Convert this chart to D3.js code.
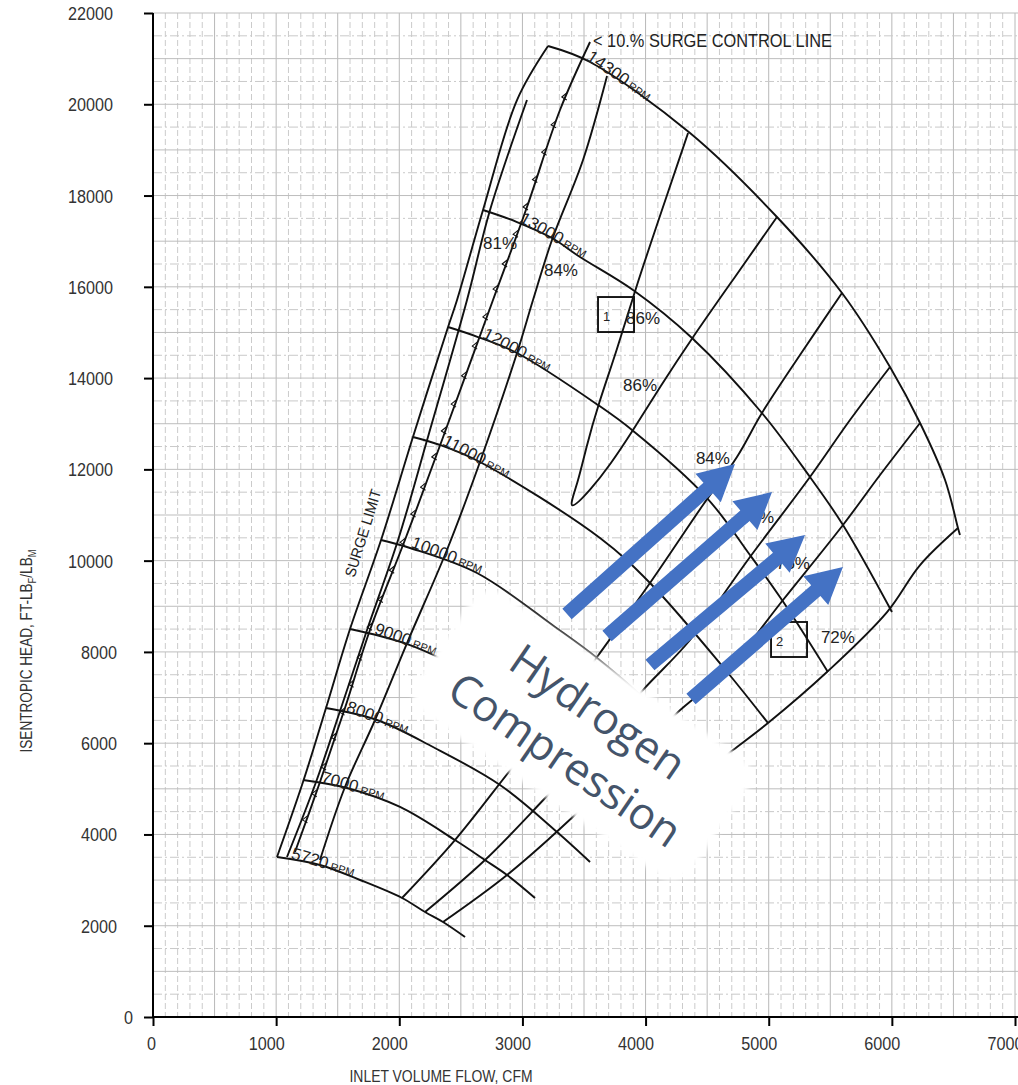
<!DOCTYPE html>
<html>
<head>
<meta charset="utf-8">
<title>Compressor map</title>
<script src="https://cdn.jsdelivr.net/npm/d3@7/dist/d3.min.js"></script>
<style>
  body { margin: 0; background: #fff; }
  #chart svg { display: block; font-family: "Liberation Sans", Arial, sans-serif; }
</style>
</head>
<body>
<div id="chart"></div>
<script>
(function(d3) {
  'use strict';

  // ticks
  var xTicks = [0, 1000, 2000, 3000, 4000, 5000, 6000, 7000];
  var yTicks = [0, 2000, 4000, 6000, 8000, 10000, 12000, 14000, 16000, 18000, 20000, 22000];

  // all points: [inlet volume flow CFM, isentropic head FT-LBF/LBM]
  var surgeLimit = [[3208,21277],[2956,20093],[2680,17683],[2469,15711],[2396,15119],[2111,12709],[1852,10452],[1600,8502],[1405,6771],[1218,5149],[1007,3506]];
  var surgeLimitInner = [[3037,20093],[2737,17683],[2550,15711],[2233,12709],[1990,10452],[1738,8480],[1527,6771],[1324,5149],[1088,3506]];
  var surgeControl = [[3549,21364],[3305,19874],[3037,17749],[2761,15711],[2347,12643],[2046,10452],[1762,8480],[1559,6771],[1356,5149],[1153,3615]];
  var surgeTickHeads = [20160,19550,18950,18350,17750,17150,16500,15950,15340,14700,14050,13430,12840,12270,11610,11020,10400,9790,9150,8540,7880,7290,6680,6130,5480,4890,4320];

  // speed lines
  var rpm14300 = [[3208,21277],[3549,20926],[4361,19370],[5067,17530],[5595,15864],[5985,14243],[6229,13016],[6432,11767],[6537,10715],[6553,10562]];
  var rpm13000 = [[2680,17683],[2956,17420],[3240,17069],[3468,16653],[3898,15930],[4377,14878],[4945,13235],[5335,11832],[5603,10781],[6001,8874]];
  var rpm12000 = [[2396,15119],[2639,14900],[2956,14550],[3614,13410],[3890,12862],[4499,11372],[4848,10123],[5108,9137],[5481,7560]];
  var rpm11000 = [[2111,12709],[2331,12534],[2655,12161],[3630,10496],[4036,9510],[4629,7669],[4994,6442]];
  var rpm10000 = [[1852,10452],[2087,10277],[2631,9729],[3265,8546],[3606,7866],[4036,6837],[4466,5325]];
  var rpm9000 = [[1600,8502],[1843,8348],[2087,8151],[2331,7866],[2818,7165],[3305,6289],[3792,5193],[4077,4492]];
  var rpm8000 = [[1405,6771],[1819,6508],[2274,5916],[2818,5084],[3281,4054],[3549,3396]];
  var rpm7000 = [[1218,5193],[1575,5018],[2006,4602],[2452,3878],[2696,3440],[2875,3112],[3102,2608]];
  var rpm5720 = [[1007,3506],[1356,3331],[1681,3002],[2022,2608],[2209,2301],[2355,2082],[2534,1753]];
  var rpmNames = ['14300', '13000', '12000', '11000', '10000', '9000', '8000', '7000', '5720'];
  var rpmLabelCfm = [3508, 2964, 2664, 2339, 2087, 1787, 1559, 1356, 1113];

  // efficiency lines
  var eff86 = [[4345,19370],[4133,17683],[3914,15930],[3768,14615],[3614,13410],[3516,12468],[3451,11701],[3354,11000],[3560,11570],[3711,12095],[3890,12819],[4117,13805],[4377,14878],[4726,16215],[5067,17530]];
  var eff84Left = [[3687,20619],[3492,18779],[3240,17026],[3086,15711],[2956,14550],[2655,12161],[2387,10233],[2063,8195],[1803,6508],[1559,5040],[1356,3440]];
  var eff84Right = [[5595,15864],[5254,14506],[4945,13235],[4742,12271],[4466,11219],[4036,9510],[3606,7888],[3265,6617],[2915,5456],[2452,3878],[2022,2608]];
  var eff80 = [[5985,14243],[5660,13081],[5335,11832],[4848,10080],[4361,8261],[3979,7165],[3630,6070],[3208,4864],[2696,3440],[2209,2301]];
  var eff76 = [[6229,13016],[5904,11876],[5603,10781],[5116,9137],[4661,7603],[4255,6661],[3874,5631],[3443,4470],[2875,3112],[2355,2082]];
  var eff72 = [[6537,10715],[6229,9904],[5961,8874],[5473,7560],[4994,6442],[4710,5851],[4442,5303]];
  var effLabelText = ['81%', '84%', '86%', '86%', '84%', '80%', '76%', '72%'];
  var effLabelCfm = [2818, 3313, 3979, 3955, 4547, 4905, 5197, 5562];
  var effLabelHead = [16960, 16368, 15316, 13848, 12249, 10956, 9948, 8327];

  // operating points
  var pointIds = ['1', '2'];
  var pointCfm = [3760, 5165];
  var pointHead = [15382, 8261];

  // annotation
  var arrowTail = [[3362,8831],[3687,8348],[4036,7713],[4369,6968]];
  var arrowTip = [[4726,12117],[5027,11504],[5295,10562],[5603,9860]];
  var noteCenter = [3484, 6179];
  var noteLines = ['Hydrogen', 'Compression'];

  var width = 1018;
  var height = 1085;
  var font = '"Liberation Sans", Arial, sans-serif';

  var x = d3.scaleLinear().domain([0, 7000]).range([153, 1015]);
  var y = d3.scaleLinear().domain([0, 22000]).range([1017, 13]);

  var svg = d3.select('#chart').append('svg')
    .attr('width', width)
    .attr('height', height);

  var defs = svg.append('defs');
  defs.append('filter').attr('id', 'soft')
    .attr('x', '-20%').attr('y', '-30%').attr('width', '140%').attr('height', '160%')
    .append('feGaussianBlur').attr('stdDeviation', 2.5);

  // grid paper
  var grid = svg.append('g');
  d3.range(100, 7001, 100).forEach(function(v) {
    var major = v % 500 === 0;
    grid.append('line')
      .attr('x1', x(v)).attr('x2', x(v))
      .attr('y1', y(22000)).attr('y2', y(0))
      .attr('stroke', major ? '#b8b8b8' : '#cbcbcb')
      .attr('stroke-dasharray', major ? null : '6,3');
  });
  d3.range(500, 22001, 500).forEach(function(v) {
    var major = v % 1000 === 0;
    grid.append('line')
      .attr('x1', x(0)).attr('x2', width)
      .attr('y1', y(v)).attr('y2', y(v))
      .attr('stroke', major ? '#bdbdbd' : '#c9c9c9')
      .attr('stroke-dasharray', major ? null : '9,3,2,3');
  });

  // axes
  var fmt = d3.format('d');
  var xAxis = svg.append('g')
    .attr('transform', 'translate(0,' + y(0) + ')')
    .call(d3.axisBottom(x).tickValues(xTicks).tickFormat(fmt).tickSize(9).tickSizeOuter(0));
  xAxis.select('.domain').remove();
  xAxis.selectAll('.tick line').attr('stroke', '#000').attr('stroke-width', 2);
  xAxis.selectAll('.tick text')
    .attr('y', 33).attr('dy', null)
    .attr('x', function(d) { return d === 0 ? -2 : -10; })
    .attr('fill', '#333')
    .attr('font-family', font)
    .attr('font-size', 18)
    .attr('textLength', function(d) { return fmt(d).length * 9; })
    .attr('lengthAdjust', 'spacingAndGlyphs');

  var yAxis = svg.append('g')
    .attr('transform', 'translate(' + x(0) + ',0)')
    .call(d3.axisLeft(y).tickValues(yTicks).tickFormat(fmt).tickSize(9).tickSizeOuter(0));
  yAxis.select('.domain').remove();
  yAxis.selectAll('.tick line').attr('stroke', '#000').attr('stroke-width', 2);
  yAxis.selectAll('.tick text')
    .attr('x', function(d) {
      var n = fmt(d).length;
      return n === 1 ? -20 : (n === 5 ? -40 : -36);
    })
    .attr('dy', '0.36em')
    .attr('fill', '#333')
    .attr('font-family', font)
    .attr('font-size', 18)
    .attr('textLength', function(d) { return fmt(d).length * 9; })
    .attr('lengthAdjust', 'spacingAndGlyphs');

  svg.append('line')
    .attr('x1', x(0)).attr('x2', width)
    .attr('y1', y(0)).attr('y2', y(0))
    .attr('stroke', '#000').attr('stroke-width', 2);
  svg.append('line')
    .attr('x1', x(0)).attr('x2', x(0))
    .attr('y1', y(22000)).attr('y2', y(0))
    .attr('stroke', '#000').attr('stroke-width', 2);

  svg.append('text')
    .attr('x', 441).attr('y', 1082)
    .attr('text-anchor', 'middle')
    .attr('font-size', 16)
    .attr('fill', '#333')
    .attr('textLength', 183)
    .attr('lengthAdjust', 'spacingAndGlyphs')
    .text('INLET VOLUME FLOW, CFM');

  var yTitle = svg.append('text')
    .attr('transform', 'translate(32,651) rotate(-90)')
    .attr('text-anchor', 'middle')
    .attr('font-size', 16)
    .attr('fill', '#333')
    .attr('textLength', 203)
    .attr('lengthAdjust', 'spacingAndGlyphs');
  yTitle.append('tspan').text('ISENTROPIC HEAD, FT-LB');
  yTitle.append('tspan').attr('font-size', 11).attr('dy', 4).text('F');
  yTitle.append('tspan').attr('dy', -4).text('/LB');
  yTitle.append('tspan').attr('font-size', 11).attr('dy', 4).text('M');

  // map lines
  var line = d3.line()
    .x(function(d) { return x(d[0]); })
    .y(function(d) { return y(d[1]); })
    .curve(d3.curveCatmullRom.alpha(0.5));
  var loopLine = d3.line()
    .x(function(d) { return x(d[0]); })
    .y(function(d) { return y(d[1]); })
    .curve(d3.curveBasis);

  var speedLines = [rpm14300, rpm13000, rpm12000, rpm11000, rpm10000, rpm9000, rpm8000, rpm7000, rpm5720];
  var effLines = [eff84Left, eff84Right, eff80, eff76, eff72];
  var surgeLines = [surgeLimit, surgeLimitInner, surgeControl];

  var map = svg.append('g')
    .attr('fill', 'none')
    .attr('stroke', '#111')
    .attr('stroke-width', 1.9)
    .attr('stroke-linejoin', 'round');

  map.selectAll('path.curve')
    .data(surgeLines.concat(speedLines, effLines))
    .enter()
    .append('path')
    .attr('class', 'curve')
    .attr('d', line);

  map.append('path').attr('d', loopLine(eff86));

  // hash marks along the surge control line
  var controlCfm = d3.scaleLinear()
    .domain(surgeControl.map(function(d) { return d[1]; }))
    .range(surgeControl.map(function(d) { return d[0]; }));
  map.selectAll('path.hash')
    .data(surgeTickHeads)
    .enter()
    .append('path')
    .attr('class', 'hash')
    .attr('stroke-width', 1.1)
    .attr('d', function(h) {
      var cx = x(controlCfm(h)), cy = y(h);
      return 'M' + (cx + 1) + ',' + (cy - 4) + 'L' + (cx - 4) + ',' + cy + 'L' + (cx + 1) + ',' + (cy + 3);
    });

  function headAt(pts, cfm) {
    for (var i = 0; i < pts.length - 1; i++) {
      var a = pts[i], b = pts[i + 1];
      if (cfm >= a[0] && cfm <= b[0]) {
        return a[1] + (b[1] - a[1]) * (cfm - a[0]) / (b[0] - a[0]);
      }
    }
    return pts[pts.length - 1][1];
  }

  // speed labels
  speedLines.forEach(function(pts, i) {
    var c = rpmLabelCfm[i];
    var px = x(c), py = y(headAt(pts, c));
    var qx = x(c + 550), qy = y(headAt(pts, c + 550));
    var ang = Math.atan2(qy - py, qx - px) * 180 / Math.PI;
    var t = svg.append('text')
      .attr('transform', 'translate(' + px + ',' + py + ') rotate(' + ang + ')')
      .attr('y', -1)
      .attr('fill', '#222');
    t.append('tspan').attr('font-size', 17).text(rpmNames[i]);
    t.append('tspan').attr('font-size', 11).attr('dx', 3).text('RPM');
  });

  // surge labels
  svg.append('text')
    .attr('x', x(3573)).attr('y', y(21255))
    .attr('font-size', 18)
    .attr('fill', '#222')
    .attr('textLength', 239)
    .attr('lengthAdjust', 'spacingAndGlyphs')
    .text('< 10.% SURGE CONTROL LINE');

  var sa = [x(surgeLimit[6][0]), y(surgeLimit[6][1])];
  var sb = [x(surgeLimit[5][0]), y(surgeLimit[5][1])];
  var surgeAng = Math.atan2(sb[1] - sa[1], sb[0] - sa[0]) * 180 / Math.PI;
  svg.append('text')
    .attr('transform', 'translate(' + x(1705) + ',' + y(10605) + ') rotate(' + surgeAng + ')')
    .attr('text-anchor', 'middle')
    .attr('dy', '0.35em')
    .attr('font-size', 15)
    .attr('fill', '#222')
    .attr('textLength', 91)
    .attr('lengthAdjust', 'spacingAndGlyphs')
    .text('SURGE LIMIT');

  // efficiency labels
  svg.selectAll('text.eff')
    .data(effLabelText)
    .enter()
    .append('text')
    .attr('class', 'eff')
    .attr('x', function(d, i) { return x(effLabelCfm[i]); })
    .attr('y', function(d, i) { return y(effLabelHead[i]); })
    .attr('dy', '0.36em')
    .attr('text-anchor', 'middle')
    .attr('font-size', 17)
    .attr('fill', '#222')
    .text(function(d) { return d; });

  // operating point boxes
  var pts = svg.selectAll('g.point')
    .data(pointIds)
    .enter()
    .append('g')
    .attr('class', 'point')
    .attr('transform', function(d, i) {
      return 'translate(' + x(pointCfm[i]) + ',' + y(pointHead[i]) + ')';
    });
  pts.append('rect')
    .attr('x', -18).attr('y', -18)
    .attr('width', 36).attr('height', 35)
    .attr('fill', 'none')
    .attr('stroke', '#111')
    .attr('stroke-width', 1.9);
  pts.append('text')
    .attr('x', -13).attr('y', 1)
    .attr('dy', '0.35em')
    .attr('font-size', 13)
    .attr('fill', '#222')
    .text(function(d) { return d; });

  // white note box
  var note = svg.append('g')
    .attr('transform', 'translate(' + x(noteCenter[0]) + ',' + y(noteCenter[1]) + ') rotate(34.5)');
  note.append('rect')
    .attr('x', -167).attr('y', -72)
    .attr('width', 334).attr('height', 144)
    .attr('rx', 24)
    .attr('fill', '#fff')
    .attr('filter', 'url(#soft)');
  note.selectAll('text')
    .data(noteLines)
    .enter()
    .append('text')
    .attr('y', function(d, i) { return i === 0 ? -28 : 30; })
    .attr('dy', '0.35em')
    .attr('text-anchor', 'middle')
    .attr('font-family', '"Open Sans", sans-serif')
    .attr('font-size', 44)
    .attr('fill', '#44546A')
    .text(function(d) { return d; });

  // blue arrows
  var arrowPoly = function(t, h) {
    var tx = x(t[0]), ty = y(t[1]), hx = x(h[0]), hy = y(h[1]);
    var len = Math.sqrt((hx - tx) * (hx - tx) + (hy - ty) * (hy - ty));
    var ux = (hx - tx) / len, uy = (hy - ty) / len;
    var nx = -uy, ny = ux;
    var headLen = 36, headHalf = 19, shaftHalf = 7;
    var bx = hx - ux * headLen, by = hy - uy * headLen;
    var p = [
      [tx + nx * shaftHalf, ty + ny * shaftHalf],
      [bx + nx * shaftHalf, by + ny * shaftHalf],
      [bx + nx * headHalf, by + ny * headHalf],
      [hx, hy],
      [bx - nx * headHalf, by - ny * headHalf],
      [bx - nx * shaftHalf, by - ny * shaftHalf],
      [tx - nx * shaftHalf, ty - ny * shaftHalf]
    ];
    return p.map(function(q) { return q[0] + ',' + q[1]; }).join(' ');
  };
  svg.selectAll('polygon.arrow')
    .data(arrowTail)
    .enter()
    .append('polygon')
    .attr('class', 'arrow')
    .attr('points', function(d, i) { return arrowPoly(d, arrowTip[i]); })
    .attr('fill', '#4472C4');

})(window.d3);
</script>
</body>
</html>
